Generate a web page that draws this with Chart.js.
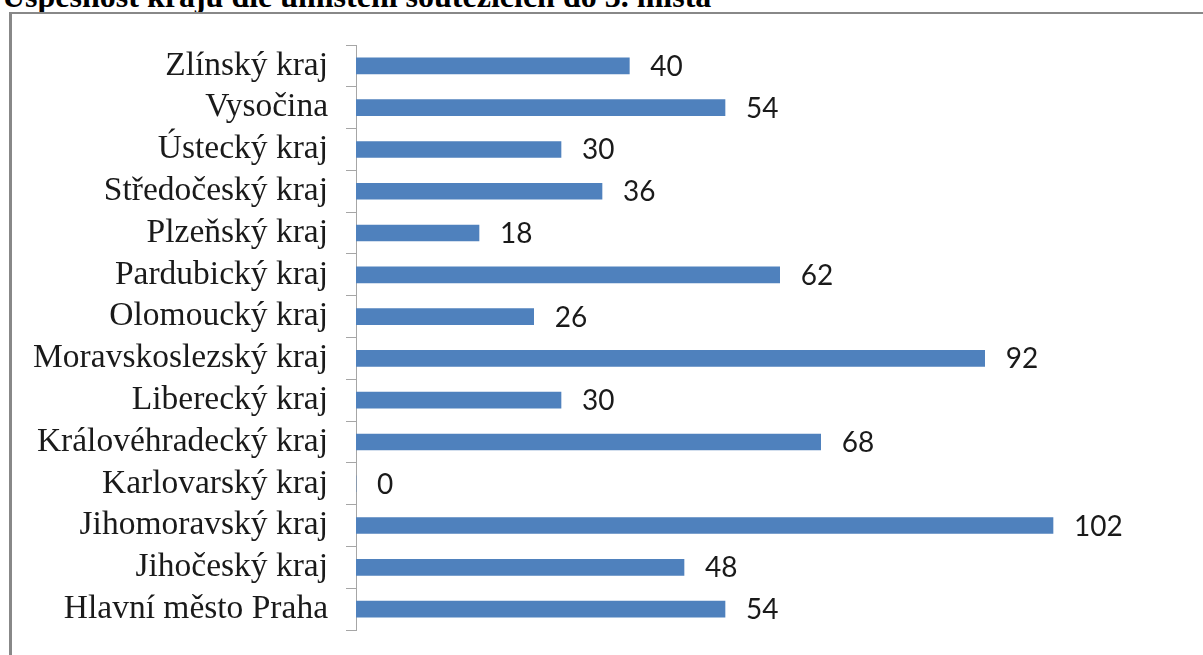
<!DOCTYPE html>
<html>
<head>
<meta charset="utf-8">
<script src="https://cdn.jsdelivr.net/npm/chart.js@4"></script>
<style>
  html, body { margin:0; padding:0; background:#fff; overflow:hidden; }
  body { width:1203px; height:655px; position:relative; }
  #title { position:absolute; left:2px; top:-22px; font-family:"Liberation Serif", "Times New Roman", serif; font-weight:bold; font-size:32px; color:#000; white-space:nowrap; line-height:normal; }
  #frame { position:absolute; left:9px; top:12px; width:1300px; height:700px; border-left:3px solid #888; border-top:2px solid #888; box-sizing:border-box; }
  #wrap { position:absolute; left:0; top:0; width:1203px; height:655px; }
</style>
</head>
<body>
<div id="title">Úspěšnost krajů dle umístění soutěžících do 3. místa</div>
<div id="frame"></div>
<div id="wrap"><canvas id="c" width="1203" height="655"></canvas></div>
<script>
const categories = ["Zlínský kraj", "Vysočina", "Ústecký kraj", "Středočeský kraj", "Plzeňský kraj", "Pardubický kraj", "Olomoucký kraj", "Moravskoslezský kraj", "Liberecký kraj", "Královéhradecký kraj", "Karlovarský kraj", "Jihomoravský kraj", "Jihočeský kraj", "Hlavní město Praha"];
const values = [40, 54, 30, 36, 18, 62, 26, 92, 30, 68, 0, 102, 48, 54];

const valueLabels = {
  id: 'valueLabels',
  afterDatasetsDraw(chart) {
    const ctx = chart.ctx;
    const meta = chart.getDatasetMeta(0);
    ctx.save();
    ctx.font = '28px Lato, "Liberation Sans", sans-serif';
    ctx.fillStyle = '#1a1a1a';
    ctx.textAlign = 'left';
    ctx.textBaseline = 'middle';
    meta.data.forEach((el, i) => {
      ctx.fillText(String(values[i]), el.x + 21, el.y + 1);
    });
    ctx.restore();
  }
};

new Chart(document.getElementById('c'), {
  type: 'bar',
  data: {
    labels: categories,
    datasets: [{
      data: values,
      backgroundColor: '#4F81BD',
      borderWidth: 0,
      barThickness: 16
    }]
  },
  options: {
    indexAxis: 'y',
    responsive: false,
    animation: false,
    devicePixelRatio: 1,
    layout: { padding: { top: 45, bottom: 25, right: 27, left: 0 } },
    plugins: { legend: { display: false }, tooltip: { enabled: false }, title: { display: false } },
    scales: {
      x: { display: false, min: 0, max: 120 },
      y: {
        afterFit(scale) { scale.width = 356; scale.paddingTop = 0; scale.paddingBottom = 0; },
        grid: { drawOnChartArea: false, drawTicks: true, tickLength: 10, color: '#a6a6a6', offset: true },
        border: { display: true, color: '#a6a6a6', width: 1 },
        ticks: {
          autoSkip: false,
          padding: 18,
          color: '#1a1a1a',
          font: { family: '"Liberation Serif", "Times New Roman", serif', size: 33.5 }
        }
      }
    }
  },
  plugins: [valueLabels]
});
</script>
</body>
</html>
